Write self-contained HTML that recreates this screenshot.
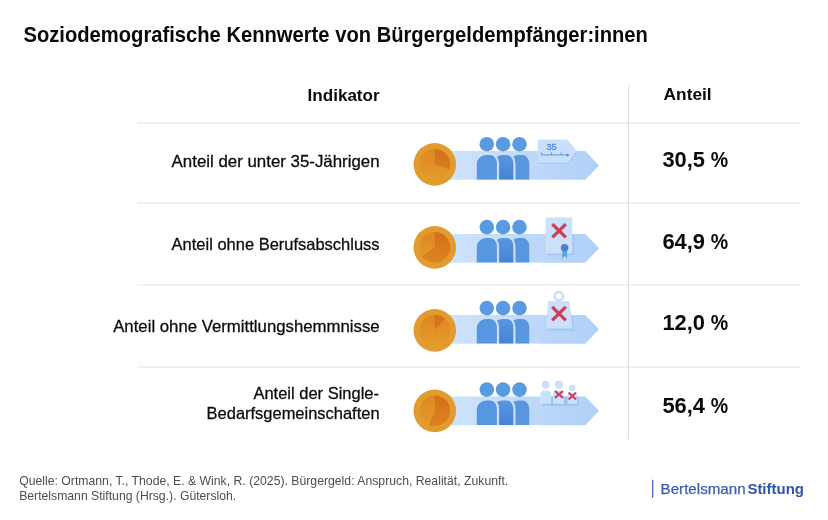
<!DOCTYPE html>
<html lang="de">
<head>
<meta charset="utf-8">
<title>Soziodemografische Kennwerte von Bürgergeldempfänger:innen</title>
<style>
html,body{margin:0;padding:0;background:#fff;}
body{width:828px;height:520px;overflow:hidden;position:relative;font-family:"Liberation Sans",sans-serif;}
svg{position:absolute;left:0;top:0;display:block;}
text{font-family:"Liberation Sans",sans-serif;}
.t{fill:#0a0a0a;}
.b{font-weight:bold;}
.row{font-size:16.5px;fill:#0c0c0c;stroke:#0c0c0c;stroke-width:.28px;}
.val{font-size:21.6px;font-weight:bold;fill:#0a0a0a;}
.src{font-size:12.6px;fill:#4d4d4d;}
</style>
</head>
<body>
<svg width="828" height="520" viewBox="0 0 828 520">
<defs>
  <linearGradient id="band" x1="0" y1="0" x2="1" y2="0">
    <stop offset="0" stop-color="#d1e4fd"/>
    <stop offset="1" stop-color="#afd0f7"/>
  </linearGradient>
  <linearGradient id="coinIn" x1="0" y1="0" x2="0" y2="1">
    <stop offset="0" stop-color="#df8622"/>
    <stop offset="1" stop-color="#e39c28"/>
  </linearGradient>
  <linearGradient id="pie" gradientUnits="userSpaceOnUse" x1="0" y1="-15.4" x2="0" y2="15.4">
    <stop offset="0" stop-color="#d56f1b"/>
    <stop offset="1" stop-color="#de8320"/>
  </linearGradient>
  <linearGradient id="body2" x1="0" y1="0" x2="0" y2="1">
    <stop offset="0" stop-color="#5996e0"/>
    <stop offset="1" stop-color="#4682d6"/>
  </linearGradient>
  <!-- band + coin ring + people, drawn relative to band centre y=0 -->
  <g id="coin">
    <circle cx="0" cy="0" r="21.3" fill="#e19b2f"/>
    <circle cx="0" cy="0" r="15.4" fill="url(#coinIn)"/>
  </g>
  <g id="base">
    <path d="M434,-14.4 H585.2 L599,0 L585.2,14.4 H434 Z" fill="url(#band)"/>
    <!-- people -->
    <circle cx="486.8" cy="-21.2" r="7.3" fill="#5a9ae1"/>
    <circle cx="503.1" cy="-21.2" r="7.3" fill="#5a9ae1"/>
    <circle cx="519.5" cy="-21.2" r="7.3" fill="#5a9ae1"/>
    <path d="M509.2,14.4 V-1.3 a9,9 0 0 1 9,-9 h4 a7,8 0 0 1 7,8 V14.4 Z" fill="#5896e0"/>
    <path d="M493,14.4 V-1.3 a9,9 0 0 1 9,-9 h4.8 a6.5,8 0 0 1 6.5,8 V14.4 Z" fill="url(#body2)" stroke="#c8defb" stroke-width="4.4" paint-order="stroke"/>
    <path d="M476.8,14.4 V-1.3 a9,9 0 0 1 9,-9 h4.1 a7,8 0 0 1 7,8 V14.4 Z" fill="#5797e1" stroke="#cbe0fc" stroke-width="4.4" paint-order="stroke"/>
    <rect x="470" y="14.4" width="70" height="3.5" fill="#fff"/>
  </g>
</defs>

<!-- grid lines -->
<g stroke="#ececec" stroke-width="1.4">
  <line x1="137.5" y1="123" x2="800.8" y2="123"/>
  <line x1="137.5" y1="202.7" x2="800.8" y2="202.7"/>
  <line x1="137.5" y1="284.9" x2="800.8" y2="284.9"/>
  <line x1="137.5" y1="367" x2="800.8" y2="367"/>
  <line x1="628.5" y1="85.3" x2="628.5" y2="439.3" stroke="#dcdcdc" stroke-width="1"/>
</g>

<!-- Title -->
<text id="title" class="t b" x="23.5" y="42" font-size="21.6" textLength="624.4" lengthAdjust="spacingAndGlyphs">Soziodemografische Kennwerte von Bürgergeldempfänger:innen</text>

<!-- Header -->
<text id="h1" class="t b" x="307.6" y="100.6" font-size="16.7" textLength="72" lengthAdjust="spacingAndGlyphs">Indikator</text>
<text id="h2" class="t b" x="663.6" y="100.4" font-size="16.9" textLength="48" lengthAdjust="spacingAndGlyphs">Anteil</text>

<!-- Row labels -->
<text id="r1" class="row" x="171.6" y="167" textLength="208" lengthAdjust="spacingAndGlyphs">Anteil der unter 35-Jährigen</text>
<text id="r2" class="row" x="171.6" y="249.5" textLength="208" lengthAdjust="spacingAndGlyphs">Anteil ohne Berufsabschluss</text>
<text id="r3" class="row" x="113.2" y="332.1" textLength="266.4" lengthAdjust="spacingAndGlyphs">Anteil ohne Vermittlungshemmnisse</text>
<text id="r4a" class="row" x="253.4" y="398.6" textLength="125.6" lengthAdjust="spacingAndGlyphs">Anteil der Single-</text>
<text id="r4b" class="row" x="206.6" y="418.6" textLength="173" lengthAdjust="spacingAndGlyphs">Bedarfsgemeinschaften</text>

<!-- Values -->
<text id="v1" class="val" x="662.4" y="167"><tspan textLength="42.6" lengthAdjust="spacingAndGlyphs">30,5</tspan> <tspan x="710.8" textLength="17.4" lengthAdjust="spacingAndGlyphs">%</tspan></text>
<text id="v2" class="val" x="662.4" y="249.2"><tspan textLength="42.6" lengthAdjust="spacingAndGlyphs">64,9</tspan> <tspan x="710.8" textLength="17.4" lengthAdjust="spacingAndGlyphs">%</tspan></text>
<text id="v3" class="val" x="662.4" y="329.8"><tspan textLength="42.6" lengthAdjust="spacingAndGlyphs">12,0</tspan> <tspan x="710.8" textLength="17.4" lengthAdjust="spacingAndGlyphs">%</tspan></text>
<text id="v4" class="val" x="662.4" y="413.2"><tspan textLength="42.6" lengthAdjust="spacingAndGlyphs">56,4</tspan> <tspan x="710.8" textLength="17.4" lengthAdjust="spacingAndGlyphs">%</tspan></text>

<!-- ROW 1 -->
<g transform="translate(0,165.4)">
  <use href="#base"/>
  <g transform="translate(434.8,-1.05)"><use href="#coin"/><path d="M0,0 L0,-15.4 A15.4,15.4 0 0 1 14.49,5.22 Z" fill="url(#pie)"/></g>
  <path d="M539.4,-14.4 H577.6 L569,-1.6 H539.4 Z" fill="#a4c6f3"/>
  <path d="M537.8,-25.9 H567.2 L576.8,-14.4 L568,-2.7 H537.8 Z" fill="#c9dffb"/>
  <text x="546.4" y="-15" font-size="8.8" fill="#4a8de2" stroke="#4a8de2" stroke-width=".35" textLength="10.2" lengthAdjust="spacingAndGlyphs">35</text>
  <path d="M541.3,-12.9 V-10.5 H567 M551.5,-12.9 V-10.5 M561.2,-12.9 V-10.5" fill="none" stroke="#4a8de2" stroke-width="0.9"/>
  <path d="M566.6,-12.1 L569.8,-10.5 L566.6,-8.9 Z" fill="#4a8de2"/>
</g>
<!-- ROW 2 -->
<g transform="translate(0,248.3)">
  <use href="#base"/>
  <g transform="translate(434.8,-0.95)"><use href="#coin"/><path d="M0,0 L0,-15.4 A15.4,15.4 0 1 1 -12.40,9.13 Z" fill="url(#pie)"/></g>
  <rect x="547.4" y="-14.4" width="26.8" height="21.2" fill="#a2c5f3"/>
  <rect x="545.8" y="-30.8" width="26.5" height="36.1" fill="#cbe0fb"/>
  <path d="M552.4,-24.2 L565.8,-10.9 M565.8,-24.2 L552.4,-10.9" stroke="#cf3f57" stroke-width="3.4" fill="none"/>
  <path d="M562.3,2 H567.1 V9.9 L564.7,7.6 L562.3,9.9 Z" fill="#5aa0ea"/>
  <circle cx="564.6" cy="-0.5" r="3.8" fill="#4a82cc"/>
</g>
<!-- ROW 3 -->
<g transform="translate(0,329.3)">
  <use href="#base"/>
  <g transform="translate(434.8,1.05)"><use href="#coin"/><path d="M0,0 L0,-15.4 A15.4,15.4 0 0 1 10.54,-11.23 Z" fill="url(#pie)"/></g>
  <path d="M548,-14.4 H572.6 L574.4,1.3 H547.4 Z" fill="#a2c5f3"/>
  <circle cx="558.9" cy="-33.1" r="4.2" fill="none" stroke="#c6dcfa" stroke-width="2.3"/>
  <path d="M548.1,-28.4 H569.4 L572.7,-0.9 H545.9 Z" fill="#cbe0fb"/>
  <path d="M552.2,-22.4 L565.8,-8.9 M565.8,-22.4 L552.2,-8.9" stroke="#cf3f57" stroke-width="3.3" fill="none"/>
</g>
<!-- ROW 4 -->
<g transform="translate(0,410.8)">
  <use href="#base"/>
  <g transform="translate(434.8,0.05)"><use href="#coin"/><path d="M0,0 L0,-15.4 A15.4,15.4 0 1 1 -6.03,14.17 Z" fill="url(#pie)"/></g>
  <rect x="542.7" y="-14.4" width="35.6" height="9.4" fill="#9fc3f2"/>
  <g fill="#cbe0fb">
    <circle cx="545.6" cy="-26.1" r="3.9"/>
    <circle cx="558.9" cy="-26.1" r="4"/>
    <circle cx="572.1" cy="-22.9" r="3.2"/>
    <path d="M540.2,-7 V-16.3 a4,4 0 0 1 4,-4 h2.8 a4,4 0 0 1 4,4 V-7 Z"/>
    <path d="M553.1,-7 V-16.3 a4,4 0 0 1 4,-4 h2.9 a4,4 0 0 1 4,4 V-7 Z"/>
    <path d="M567.5,-7 V-14.5 a3.5,3.5 0 0 1 3.5,-3.5 h2.6 a3.5,3.5 0 0 1 3.5,3.5 V-7 Z"/>
  </g>
  <path d="M555,-19.8 L562.9,-12.9 M562.9,-19.8 L555,-12.9 M568.6,-18.3 L576.1,-11.4 M576.1,-18.3 L568.6,-11.4" stroke="#cf3f57" stroke-width="2.1" fill="none"/>
</g>

<!-- Source -->
<text id="s1" class="src" x="19.2" y="485.1" textLength="489" lengthAdjust="spacingAndGlyphs">Quelle: Ortmann, T., Thode, E. &amp; Wink, R. (2025). Bürgergeld: Anspruch, Realität, Zukunft.</text>
<text id="s2" class="src" x="19.2" y="500.2" textLength="217" lengthAdjust="spacingAndGlyphs">Bertelsmann Stiftung (Hrsg.). Gütersloh.</text>

<!-- Logo -->
<rect x="652" y="479.8" width="1.3" height="17.9" fill="#4a6cba"/>
<text id="lg" x="660.6" y="493.6" font-size="14.6" fill="#3b60b3"><tspan x="660.6" textLength="85" lengthAdjust="spacingAndGlyphs" stroke="#3b60b3" stroke-width=".25">Bertelsmann</tspan><tspan x="747.4" font-weight="bold" fill="#2f55aa" textLength="56.6" lengthAdjust="spacingAndGlyphs">Stiftung</tspan></text>
</svg>
</body>
</html>
